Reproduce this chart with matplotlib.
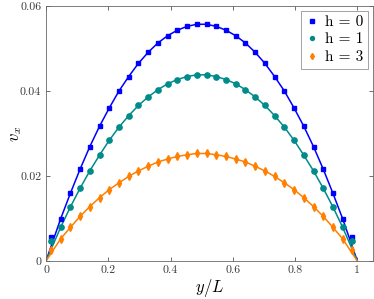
import matplotlib
matplotlib.use('Agg')
import matplotlib.pyplot as plt

plt.rcParams['font.family'] = 'serif'
plt.rcParams['font.serif'] = ['cmr10']
plt.rcParams['mathtext.fontset'] = 'cm'
plt.rcParams['axes.formatter.use_mathtext'] = True

# marker positions (cell centres) across the channel, y/L
y_pos = [(i + 0.5) / 32 for i in range(32)]

# simulated velocity, left half (mirrored for the right half)
v_h0_half = [0.0056, 0.0099, 0.0159, 0.0216, 0.0269, 0.0317, 0.0360, 0.0400,
             0.0434, 0.0465, 0.0491, 0.0513, 0.0530, 0.0543, 0.0552, 0.0557]
v_h1_half = [0.0048, 0.0079, 0.0127, 0.0171, 0.0212, 0.0249, 0.0284, 0.0315,
             0.0342, 0.0366, 0.0386, 0.0403, 0.0417, 0.0427, 0.0434, 0.0438]
v_h3_half = [0.0026, 0.0052, 0.0079, 0.0105, 0.0128, 0.0149, 0.0168, 0.0184,
             0.0199, 0.0212, 0.0223, 0.0233, 0.0240, 0.0246, 0.0250, 0.0253]

v_h0 = v_h0_half + v_h0_half[::-1]
v_h1 = v_h1_half + v_h1_half[::-1]
v_h3 = v_h3_half + v_h3_half[::-1]

labels = ['h = 0', 'h = 1', 'h = 3']
colors = ['#0000ff', '#008b8b', '#ff8000']
markers = ['s', 'o', 'd']
msizes = [3.2, 3.8, 4.2]

fig = plt.figure(figsize=(3.74, 2.99), dpi=100)
ax = fig.add_axes([0.123, 0.127, 0.874, 0.853])

for v, lab, c, m, ms in zip([v_h0, v_h1, v_h3], labels, colors, markers, msizes):
    # line: wall values are zero, interior follows the markers
    x_line = [0.0] + y_pos[1:-1] + [1.0]
    y_line = [0.0] + v[1:-1] + [0.0]
    ax.plot(x_line, y_line, color=c, lw=1.1, zorder=2)
    ax.plot(y_pos, v, ls='none', marker=m, ms=ms, color=c, mec=c, label=lab, zorder=3)

ax.set_xlim(0, 1.05)
ax.set_ylim(0, 0.06)
ax.set_xticks([0, 0.2, 0.4, 0.6, 0.8, 1])
ax.set_xticklabels(['0', '0.2', '0.4', '0.6', '0.8', '1'])
ax.set_yticks([0, 0.02, 0.04, 0.06])
ax.set_yticklabels(['0', '0.02', '0.04', '0.06'])
ax.tick_params(direction='in', top=True, right=True, length=3, width=0.6,
               colors='#555555', labelcolor='#3a3a3a', labelsize=8.5)
for s in ax.spines.values():
    s.set_color('#666666')
    s.set_linewidth(0.6)

ax.set_xlabel(r'$y/L$', fontsize=12, labelpad=1)
ax.set_ylabel(r'$v_x$', fontsize=12, labelpad=-3)

leg = ax.legend(loc='upper right', fontsize=11, frameon=True, fancybox=False,
                handlelength=0.8, handletextpad=0.5, borderpad=0.3,
                labelspacing=0.25, borderaxespad=0.3, markerscale=0.75)
leg.get_frame().set_edgecolor('#777777')
leg.get_frame().set_linewidth(0.6)

fig.savefig('out.png', dpi=100)
